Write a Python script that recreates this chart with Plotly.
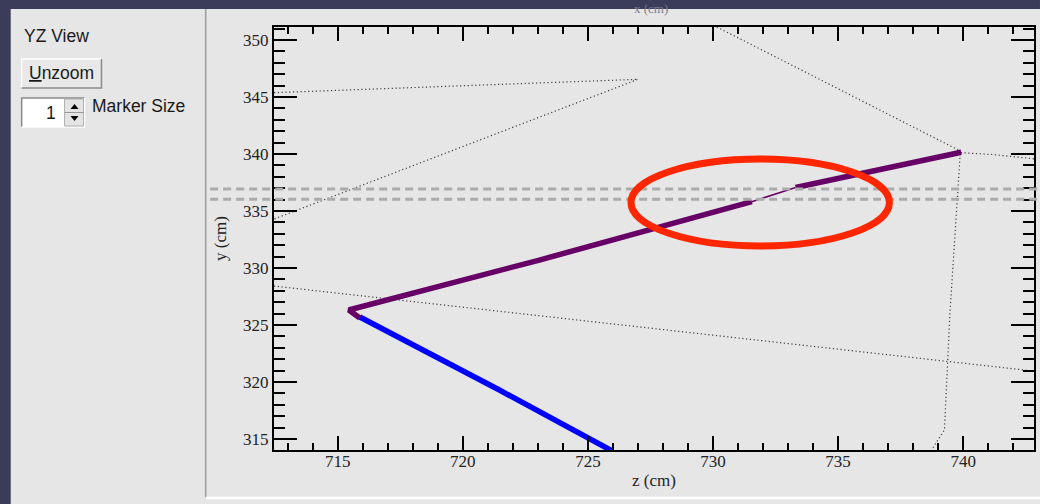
import plotly.graph_objects as go

# ---------------- data (cm) ----------------
# thick purple track (two thick pieces with a thin gap segment)
purple_a_z = [715.88, 715.44, 723.06, 731.55]
purple_a_y = [325.61, 326.32, 330.70, 335.82]
purple_thin_z = [731.55, 733.30]
purple_thin_y = [335.82, 337.06]
purple_b_z = [733.30, 736.61, 739.92]
purple_b_y = [337.06, 338.57, 340.15]

# blue track
blue_z = [715.88, 721.46, 725.93]
blue_y = [325.70, 319.30, 314.00]

# dotted projection lines
dot_a_z = [712.45, 727.00, 712.45]
dot_a_y = [345.38, 346.55, 334.30]
dot_c_z = [730.15, 739.90]
dot_c_y = [351.14, 340.25]
dot_d_z = [739.90, 741.20, 742.83]
dot_d_y = [340.12, 339.95, 339.58]
dot_e_z = [739.88, 739.47, 739.25, 738.73]
dot_e_y = [340.00, 326.05, 315.80, 314.04]
dot_f_z = [712.45, 742.83]
dot_f_y = [328.42, 320.96]

# overlay annotations (data units)
dash_levels = [336.93, 336.03]
ellipse_z = [726.72, 737.05]
ellipse_y = [331.93, 339.56]

x_range = [712.45, 742.83]
y_range = [314.04, 351.14]

# ---------------- page geometry (pixels) ----------------
W, H = 1040, 504
PL, PR, PT, PB = 274, 1036, 27, 450


def px(x):
    return (x - PL) / (PR - PL)


def py(y):
    return (PB - y) / (PB - PT)


BG = "#e6e6e6"
DARK = "#3a3c59"
DOT = "#3c3c3c"

fig = go.Figure()

dotted = dict(color=DOT, width=1.2, dash="1.2px,2.6px")
for zz, yy in [(dot_a_z, dot_a_y), (dot_c_z, dot_c_y), (dot_d_z, dot_d_y),
               (dot_e_z, dot_e_y), (dot_f_z, dot_f_y)]:
    fig.add_trace(go.Scatter(x=zz, y=yy, mode="lines", line=dotted,
                             hoverinfo="skip", showlegend=False))

fig.add_trace(go.Scatter(x=blue_z, y=blue_y, mode="lines",
                         line=dict(color="#0000ff", width=5.5), showlegend=False))
fig.add_trace(go.Scatter(x=purple_a_z, y=purple_a_y, mode="lines",
                         line=dict(color="#660066", width=5.5), showlegend=False))
fig.add_trace(go.Scatter(x=purple_thin_z, y=purple_thin_y, mode="lines",
                         line=dict(color="#660066", width=1.5), showlegend=False))
fig.add_trace(go.Scatter(x=purple_b_z, y=purple_b_y, mode="lines",
                         line=dict(color="#660066", width=5.5), showlegend=False))

shapes = []
# dashed horizontal reference lines (extend outside the frame)
for lv in dash_levels:
    shapes.append(dict(type="line", xref="paper", yref="y",
                       x0=px(210), x1=px(1042), y0=lv, y1=lv,
                       line=dict(color="#ababab", width=3, dash="8px,5px"),
                       layer="above"))
# red ellipse
shapes.append(dict(type="circle", xref="x", yref="y",
                   x0=ellipse_z[0], x1=ellipse_z[1], y0=ellipse_y[0], y1=ellipse_y[1],
                   line=dict(color="#ff2600", width=7), layer="above"))

# window chrome
shapes += [
    dict(type="rect", xref="paper", yref="paper", x0=px(-2), x1=px(W + 2),
         y0=py(9), y1=py(-2), fillcolor=DARK, line_width=0, layer="above"),
    dict(type="rect", xref="paper", yref="paper", x0=px(-2), x1=px(10),
         y0=py(H + 2), y1=py(-2), fillcolor=DARK, line_width=0, layer="above"),
    dict(type="line", xref="paper", yref="paper", x0=px(205.5), x1=px(205.5),
         y0=py(9), y1=py(497), line=dict(color="#9c9c9c", width=1.5), layer="above"),
    dict(type="line", xref="paper", yref="paper", x0=px(206), x1=px(W + 2),
         y0=py(498), y1=py(498), line=dict(color="#ffffff", width=2.5), layer="above"),
]

# Unzoom button
bx0, bx1, by0, by1 = 21, 101, 59, 88
shapes += [
    dict(type="rect", xref="paper", yref="paper", x0=px(bx0), x1=px(bx1),
         y0=py(by1), y1=py(by0), fillcolor="#e8e8e8", line_width=0, layer="above"),
    dict(type="path", xref="paper", yref="paper",
         path=f"M {px(bx0)},{py(by1)} L {px(bx0)},{py(by0)} L {px(bx1)},{py(by0)}",
         line=dict(color="#ffffff", width=1.5), layer="above"),
    dict(type="path", xref="paper", yref="paper",
         path=f"M {px(bx0)},{py(by1)} L {px(bx1)},{py(by1)} L {px(bx1)},{py(by0)}",
         line=dict(color="#8a8a8a", width=1.5), layer="above"),
]
# spin box
sx0, sx1, sy0, sy1 = 21, 64, 98, 127
ax0, ax1 = 64, 84
shapes += [
    dict(type="rect", xref="paper", yref="paper", x0=px(sx0), x1=px(sx1),
         y0=py(sy1), y1=py(sy0), fillcolor="#ffffff", line_width=0, layer="above"),
    dict(type="path", xref="paper", yref="paper",
         path=f"M {px(sx0)},{py(sy1)} L {px(sx0)},{py(sy0)} L {px(ax1)},{py(sy0)}",
         line=dict(color="#8a8a8a", width=1.5), layer="above"),
    dict(type="path", xref="paper", yref="paper",
         path=f"M {px(sx0)},{py(sy1)} L {px(ax1)},{py(sy1)} L {px(ax1)},{py(sy0)}",
         line=dict(color="#ffffff", width=1.5), layer="above"),
    dict(type="rect", xref="paper", yref="paper", x0=px(ax0), x1=px(ax1 - 1),
         y0=py(sy1 - 1), y1=py(sy0 + 1), fillcolor="#e4e4e4",
         line=dict(color="#b0b0b0", width=1), layer="above"),
    dict(type="line", xref="paper", yref="paper", x0=px(ax0), x1=px(ax1 - 1),
         y0=py(112.5), y1=py(112.5), line=dict(color="#9a9a9a", width=1), layer="above"),
    dict(type="path", xref="paper", yref="paper",
         path=f"M {px(70)},{py(109)} L {px(78)},{py(109)} L {px(74)},{py(104)} Z",
         fillcolor="#000000", line_width=0, layer="above"),
    dict(type="path", xref="paper", yref="paper",
         path=f"M {px(70)},{py(116)} L {px(78)},{py(116)} L {px(74)},{py(121)} Z",
         fillcolor="#000000", line_width=0, layer="above"),
]

sans = "Liberation Sans"
serif = "Liberation Serif"
UI = 17.5
annotations = [
    dict(text="YZ View", xref="paper", yref="paper", x=px(21), y=py(36),
         xanchor="left", yanchor="middle", showarrow=False,
         font=dict(family=sans, size=UI, color="#1a1a1a")),
    dict(text="<u>U</u>nzoom", xref="paper", yref="paper", x=px(61), y=py(72.5),
         xanchor="center", yanchor="middle", showarrow=False,
         font=dict(family=sans, size=UI, color="#1a1a1a")),
    dict(text="1", xref="paper", yref="paper", x=px(57), y=py(112.5),
         xanchor="right", yanchor="middle", showarrow=False,
         font=dict(family=sans, size=UI, color="#1a1a1a")),
    dict(text="Marker Size", xref="paper", yref="paper", x=px(90), y=py(106),
         xanchor="left", yanchor="middle", showarrow=False,
         font=dict(family=sans, size=UI, color="#1a1a1a")),
    dict(text="x (cm)", xref="paper", yref="paper", x=px(652), y=py(9),
         xanchor="center", yanchor="middle", showarrow=False,
         font=dict(family=serif, size=13, color="#7c7d90")),
]

axis_common = dict(
    showgrid=False, zeroline=False, showline=True, linecolor="#000000",
    linewidth=2, mirror="allticks", ticks="inside", tickcolor="#000000",
    tickwidth=1.5, tickfont=dict(family=serif, size=17, color="#222222"),
)

fig.update_layout(
    width=W, height=H,
    margin=dict(l=PL, r=W - PR, t=PT, b=H - PB, pad=0),
    paper_bgcolor=BG, plot_bgcolor=BG,
    showlegend=False,
    xaxis=dict(range=x_range, dtick=5, tick0=715, ticklen=14,
               ticklabelstandoff=-5,
               minor=dict(dtick=1, ticklen=7, ticks="inside", tickcolor="#000000",
                          tickwidth=1.5),
               title=dict(text="z (cm)", standoff=4,
                          font=dict(family=serif, size=17, color="#222222")),
               **axis_common),
    yaxis=dict(range=y_range, dtick=5, tick0=315, ticklen=23,
               minor=dict(dtick=1, ticklen=11, ticks="inside", tickcolor="#000000",
                          tickwidth=1.5),
               title=dict(text="y (cm)", standoff=12,
                          font=dict(family=serif, size=17, color="#222222")),
               **axis_common),
    shapes=shapes,
    annotations=annotations,
)

fig.write_html("out.html", config={"displayModeBar": False},
               post_script="document.body.style.margin='0';")
